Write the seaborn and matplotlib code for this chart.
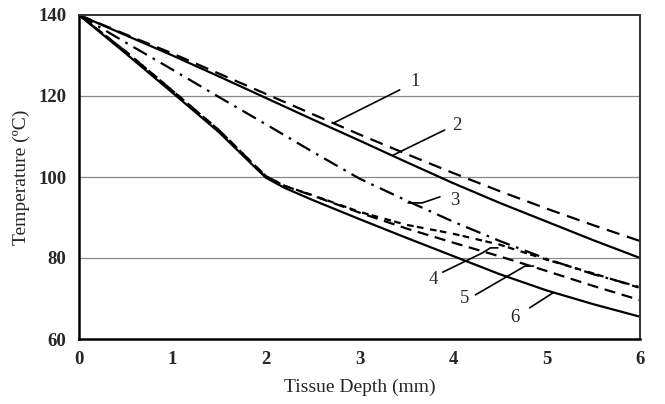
import pandas as pd
import matplotlib.pyplot as plt
import seaborn as sns

# depth grid (mm) and temperature curves (deg C)
depth_a = [0, 0.5, 1, 1.5, 2, 2.5, 3, 3.5, 4, 4.5, 5, 5.5, 6]
curve_1 = [140, 135.2, 130.5, 125.5, 120.5, 115.5, 110.5, 105.7, 101.0, 96.5, 92.2, 88.1, 84.2]
curve_2 = [140, 135.0, 130.0, 124.8, 119.5, 114.2, 109.0, 103.7, 98.5, 93.6, 89.0, 84.4, 80.0]
curve_3 = [140, 133.2, 126.5, 119.7, 113.0, 106.2, 99.6, 94.2, 89.0, 84.2, 79.8, 76.0, 72.8]

depth_b = [0, 0.5, 1, 1.5, 1.9, 2.0, 2.2, 2.5, 3, 3.5, 4, 4.5, 5, 5.5, 6]
curve_4 = [140, 131.0, 121.3, 111.5, 102.4, 100.2, 97.8, 95.5, 91.4, 88.2, 86.0, 83.3, 79.6, 76.2, 72.6]
curve_5 = [140, 131.0, 121.3, 111.5, 102.4, 100.2, 97.8, 95.4, 91.2, 87.3, 83.8, 80.4, 76.8, 73.1, 69.6]
curve_6 = [140, 130.5, 120.8, 111.0, 102.0, 99.8, 97.3, 94.3, 89.6, 85.0, 80.5, 76.0, 72.0, 68.6, 65.5]

curve_names = ['1', '2', '3', '4', '5', '6']
x_ticks = [0, 1, 2, 3, 4, 5, 6]
y_ticks = [60, 80, 100, 120, 140]

series = [
    (depth_a, curve_1, (0, (6, 3.5))),
    (depth_a, curve_2, '-'),
    (depth_a, curve_3, (0, (7, 3, 1.2, 3))),
    (depth_b, curve_4, (0, (3, 1.5, 3, 3))),
    (depth_b, curve_5, (0, (5, 3))),
    (depth_b, curve_6, '-'),
]

# label text position and leader line (data units)
labels = {
    '1': ((3.59, 123.5), [(2.72, 113.3), (3.43, 121.5)]),
    '2': ((4.04, 112.8), [(3.36, 105.4), (3.91, 111.6)]),
    '3': ((4.02, 94.3), [(3.52, 93.6), (3.67, 93.6), (3.86, 95.1)]),
    '4': ((3.79, 74.6), [(3.89, 76.5), (4.31, 81.2), (4.40, 82.5), (4.48, 82.5)]),
    '5': ((4.12, 70.1), [(4.24, 70.9), (4.77, 78.0), (4.86, 78.0)]),
    '6': ((4.66, 65.4), [(4.82, 67.7), (5.07, 71.4)]),
}

sns.set_style('white')
plt.rcParams['font.family'] = ['Liberation Serif', 'DejaVu Serif']

fig = plt.figure(figsize=(6.65, 4.04), dpi=100)
ax = fig.add_axes([79 / 665, 1 - 339 / 404, (640 - 79) / 665, (339 - 15) / 404])

for name, (xs, ys, ls) in zip(curve_names, series):
    df = pd.DataFrame({'depth': xs, 'temp': ys})
    sns.lineplot(data=df, x='depth', y='temp', ax=ax, color='black',
                 linewidth=1.6, linestyle=ls)

for name, (txt_pos, leader) in labels.items():
    lx, ly = zip(*leader)
    ax.plot(lx, ly, color='black', linewidth=1.2)
    ax.text(txt_pos[0], txt_pos[1], name, fontsize=13.5, ha='center', va='center')

for y in [80, 100, 120]:
    ax.axhline(y, color='#888888', linewidth=0.9, zorder=0)

ax.set_xlim(0, 6)
ax.set_ylim(60, 140)
ax.set_xticks(x_ticks)
ax.set_yticks(y_ticks)
ax.tick_params(axis='both', direction='out', length=4, width=0.8, color='#777777',
               labelsize=13.5, pad=5)
for lab in ax.get_xticklabels() + ax.get_yticklabels():
    lab.set_fontweight('bold')

for side in ['left', 'bottom']:
    ax.spines[side].set_linewidth(1.8)
    ax.spines[side].set_color('black')
for side in ['top', 'right']:
    ax.spines[side].set_linewidth(1.4)
    ax.spines[side].set_color('#333333')

ax.set_xlabel('Tissue Depth (mm)', fontsize=14, labelpad=7)
ax.set_ylabel('Temperature (\u00baC)', fontsize=14, labelpad=6)

fig.savefig('out.png', dpi=100)
